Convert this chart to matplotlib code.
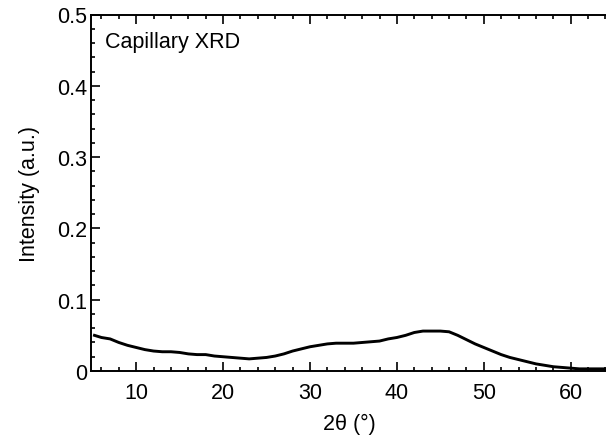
import matplotlib
matplotlib.use('Agg')
import matplotlib.pyplot as plt
from matplotlib.ticker import MultipleLocator

plt.rcParams['font.family'] = ['Liberation Sans', 'DejaVu Sans']

# 2theta (deg) and intensity
two_theta = [5.2, 6, 7, 8, 9, 10, 11, 12, 13, 14, 15, 16, 17, 18, 19, 20,
             21, 22, 23, 24, 25, 26, 27, 28, 29, 30, 31, 32, 33, 34, 35, 36,
             37, 38, 39, 40, 41, 42, 43, 44, 45, 46, 47, 48, 49, 50, 51, 52,
             53, 54, 55, 56, 57, 58, 59, 60, 61, 62, 63, 64.5]
intensity = [0.050, 0.047, 0.045, 0.040, 0.036, 0.033, 0.030, 0.028, 0.027, 0.027,
             0.026, 0.024, 0.023, 0.023, 0.021, 0.020, 0.019, 0.018, 0.017, 0.018,
             0.019, 0.021, 0.024, 0.028, 0.031, 0.034, 0.036, 0.038, 0.039, 0.039,
             0.039, 0.040, 0.041, 0.042, 0.045, 0.047, 0.050, 0.054, 0.056, 0.056,
             0.056, 0.055, 0.050, 0.044, 0.038, 0.033, 0.028, 0.023, 0.019, 0.016,
             0.013, 0.010, 0.008, 0.006, 0.005, 0.004, 0.003, 0.003, 0.003, 0.003]

fig = plt.figure(figsize=(6.06, 4.39), dpi=100)
ax = fig.add_axes([91/606, 1-372/439, 1.002-91/606, (372-15.5)/439])

ax.plot(two_theta, intensity, color='black', lw=2.1)

ax.set_xlim(4.8, 64.2)
ax.set_ylim(0, 0.5)
ax.xaxis.set_major_locator(MultipleLocator(10))
ax.xaxis.set_minor_locator(MultipleLocator(2))
ax.yaxis.set_minor_locator(MultipleLocator(0.02))
ax.set_yticks([0, 0.1, 0.2, 0.3, 0.4, 0.5])
ax.set_yticklabels(['0', '0.1', '0.2', '0.3', '0.4', '0.5'])

ax.tick_params(which='both', direction='in', top=True, right=False, labelsize=15.5,
               width=1.2)
ax.tick_params(which='major', length=6.5)
ax.tick_params(axis='x', which='major', pad=8)
ax.tick_params(axis='y', which='major', pad=3)
ax.tick_params(which='minor', length=3.2)
for s in ax.spines.values():
    s.set_linewidth(1.4)
ax.spines['right'].set_visible(False)

ax.set_xlabel('2θ (°)', fontsize=15.5, labelpad=7)
ax.set_ylabel('Intensity (a.u.)', fontsize=15.5, labelpad=12)
ax.text(0.027, 0.955, 'Capillary XRD', transform=ax.transAxes, fontsize=15.5,
        va='top', ha='left')

fig.savefig('out.png', dpi=100)
